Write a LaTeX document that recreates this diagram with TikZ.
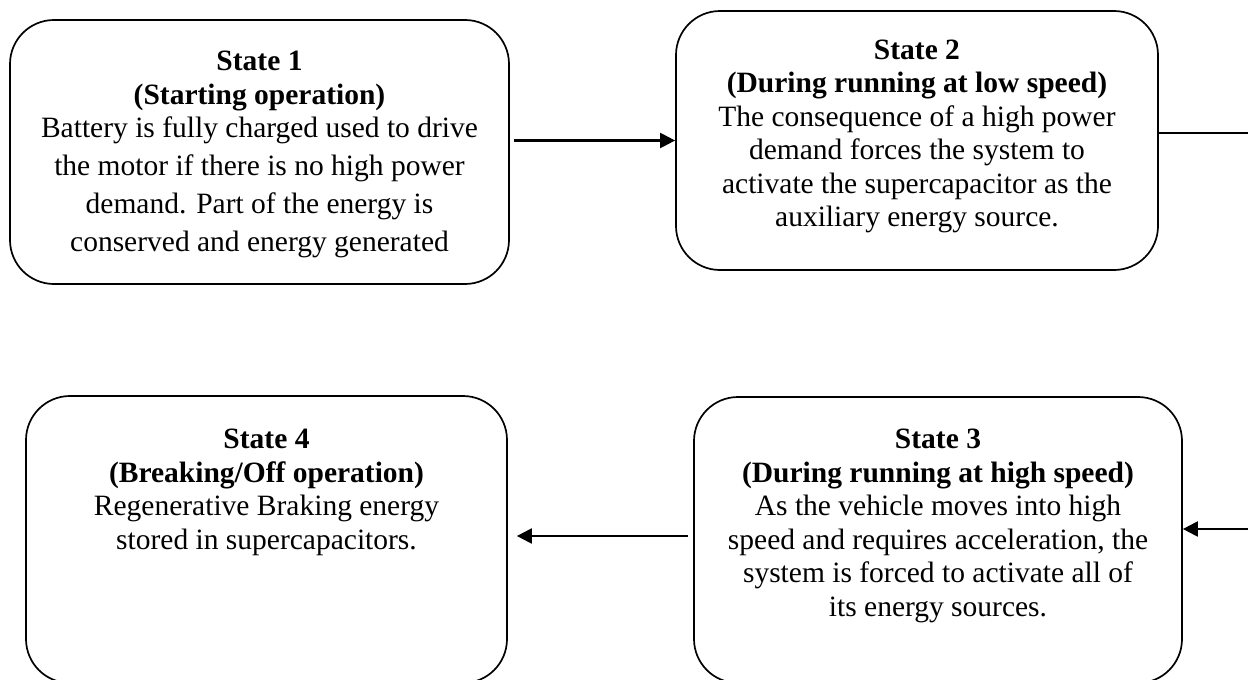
\documentclass[tikz,border=0pt]{standalone}
\usepackage{fontspec}
\setmainfont{Liberation Serif}
\usetikzlibrary{positioning, arrows.meta}

\begin{document}
\begin{tikzpicture}[x=1pt,y=-1pt,
	box/.style={draw,line width=1.7pt,rounded corners=44pt,inner sep=0pt},
	txt/.style={align=center,inner sep=0pt,font=\fontsize{29.5}{33.5}\selectfont},
	link/.style={line width=2.1pt,-{Triangle[length=15pt,width=15pt]}}]
	\useasboundingbox (0,0) rectangle (1248,680);
	% state boxes
	\node[box,minimum width=499pt,minimum height=264pt] (s1) at (259.5,152) {};
	\node[box,minimum width=482pt,minimum height=259pt] (s2) at (917,140.5) {};
	\node[box,minimum width=488pt,minimum height=286pt] (s3) at (938,540) {};
	\node[box,minimum width=481pt,minimum height=287pt] (s4) at (266.5,539.5) {};
	% texts
	\node[txt] (t1) [below=32pt of s1.north] {\textbf{State 1}\\ \textbf{(Starting operation)}\\
		Battery is fully charged used to drive\\[4.5pt] the motor if there is no high power\\[4.5pt]
		demand. Part of the energy is\\[4.5pt] conserved and energy generated};
	\node[txt] (t2) [below=29.5pt of s2.north] {\textbf{State 2}\\ \textbf{(During running at low speed)}\\
		The consequence of a high power\\ demand forces the system to\\
		activate the supercapacitor as the\\ auxiliary energy source.};
	\node[txt] (t3) [below=33pt of s3.north] {\textbf{State 3}\\ \textbf{(During running at high speed)}\\
		As the vehicle moves into high\\ speed and requires acceleration, the\\
		system is forced to activate all of\\ its energy sources.};
	\node[txt] (t4) [below=34pt of s4.north] {\textbf{State 4}\\ \textbf{(Breaking/Off operation)}\\
		Regenerative Braking energy\\ stored in supercapacitors.};
	% connectors
	\coordinate (e2) at (1248,133);
	\coordinate (e3) at (1248,529);
	\coordinate (a3) at ([yshift=4pt]s3.west);
	\draw[link,shorten <=4pt] (s1.east |- s2.west) -- (s2.west);
	\draw[line width=2.1pt] (s2.east |- e2) -- (e2);
	\draw[link] (e3) -- (s3.east |- e3);
	\draw[link,shorten <=5pt,shorten >=9pt] (a3) -- (a3 -| s4.east);
\end{tikzpicture}
\end{document}
